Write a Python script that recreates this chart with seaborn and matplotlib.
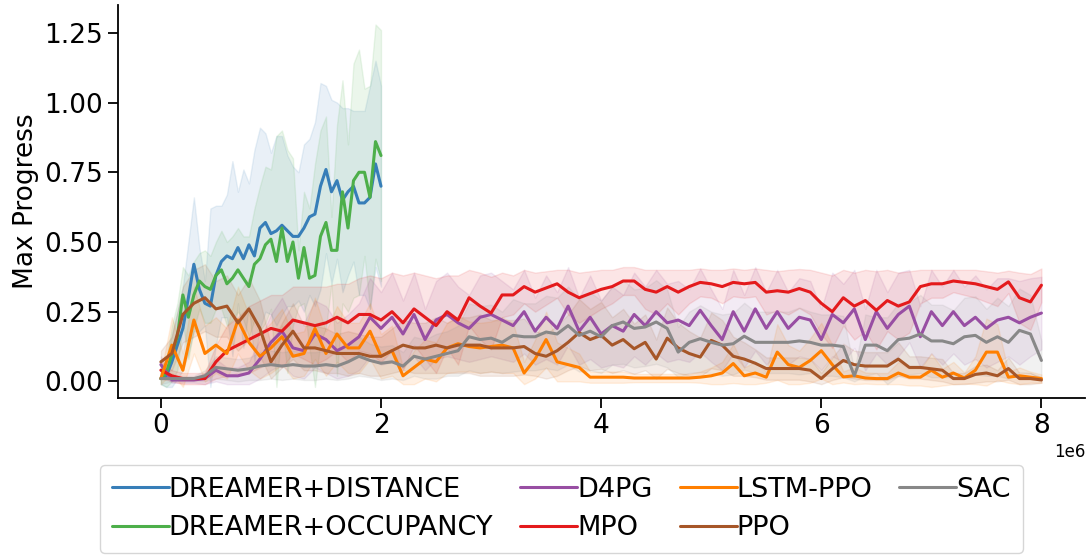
import numpy as np
import pandas as pd
import matplotlib.pyplot as plt
import seaborn as sns

# evaluation steps (env steps)
steps_dreamer = np.linspace(0, 2.0e6, 41)
steps_long = np.linspace(0, 8.0e6, 81)

dreamer_distance = [0.01, 0.02, 0.07, 0.13, 0.19, 0.30, 0.42, 0.33, 0.28, 0.27,
                    0.38, 0.43, 0.45, 0.44, 0.48, 0.44, 0.49, 0.45, 0.55, 0.57,
                    0.53, 0.54, 0.56, 0.54, 0.52, 0.52, 0.55, 0.59, 0.60, 0.70,
                    0.76, 0.68, 0.72, 0.65, 0.68, 0.70, 0.64, 0.64, 0.66, 0.78, 0.70]
dreamer_distance_sd = [0.02, 0.05, 0.10, 0.12, 0.15, 0.20, 0.24, 0.15, 0.08, 0.35,
                       0.25, 0.20, 0.22, 0.35, 0.20, 0.32, 0.22, 0.38, 0.36, 0.32,
                       0.29, 0.34, 0.32, 0.27, 0.25, 0.23, 0.30, 0.28, 0.33, 0.37,
                       0.30, 0.33, 0.28, 0.33, 0.30, 0.27, 0.33, 0.33, 0.40, 0.37, 0.36]

dreamer_occupancy = [0.01, 0.03, 0.10, 0.16, 0.31, 0.23, 0.31, 0.36, 0.34, 0.33,
                     0.38, 0.40, 0.35, 0.37, 0.40, 0.37, 0.34, 0.42, 0.44, 0.49,
                     0.51, 0.43, 0.55, 0.43, 0.50, 0.37, 0.48, 0.37, 0.38, 0.52,
                     0.57, 0.47, 0.47, 0.68, 0.55, 0.72, 0.75, 0.75, 0.66, 0.86, 0.81]
dreamer_occupancy_sd = [0.02, 0.05, 0.10, 0.12, 0.10, 0.15, 0.12, 0.10, 0.13, 0.12,
                        0.12, 0.14, 0.15, 0.15, 0.15, 0.15, 0.18, 0.20, 0.26, 0.28,
                        0.25, 0.45, 0.35, 0.40, 0.30, 0.10, 0.20, 0.25, 0.40, 0.38,
                        0.38, 0.12, 0.45, 0.40, 0.30, 0.42, 0.44, 0.30, 0.40, 0.42, 0.45]

d4pg = [0.06, 0.005, 0.005, 0.005, 0.01, 0.04, 0.02, 0.02, 0.03, 0.08,
        0.14, 0.18, 0.12, 0.11, 0.17, 0.15, 0.11, 0.13, 0.16, 0.23,
        0.19, 0.23, 0.17, 0.24, 0.15, 0.22, 0.24, 0.21, 0.19, 0.23,
        0.24, 0.22, 0.20, 0.25, 0.18, 0.23, 0.19, 0.27, 0.18, 0.23,
        0.17, 0.20, 0.18, 0.24, 0.20, 0.25, 0.21, 0.22, 0.20, 0.255,
        0.20, 0.15, 0.25, 0.18, 0.26, 0.19, 0.25, 0.19, 0.23, 0.22,
        0.15, 0.24, 0.21, 0.26, 0.15, 0.25, 0.19, 0.24, 0.27, 0.16,
        0.25, 0.20, 0.25, 0.20, 0.23, 0.19, 0.22, 0.23, 0.21, 0.23, 0.245]
d4pg_sd = [0.03, 0.01, 0.01, 0.01, 0.02, 0.04, 0.03, 0.03, 0.04, 0.07,
           0.10, 0.12, 0.10, 0.10, 0.12, 0.12, 0.10, 0.11, 0.12, 0.14,
           0.13, 0.16, 0.12, 0.15, 0.11, 0.14, 0.15, 0.13, 0.12, 0.15,
           0.15, 0.14, 0.13, 0.15, 0.12, 0.15, 0.13, 0.14, 0.12, 0.15,
           0.12, 0.14, 0.13, 0.15, 0.14, 0.15, 0.14, 0.14, 0.13, 0.15,
           0.13, 0.11, 0.15, 0.13, 0.15, 0.13, 0.15, 0.13, 0.14, 0.14,
           0.11, 0.15, 0.14, 0.14, 0.11, 0.15, 0.13, 0.15, 0.13, 0.11,
           0.15, 0.14, 0.15, 0.14, 0.15, 0.14, 0.15, 0.14, 0.15, 0.14, 0.13]

mpo = [0.04, 0.02, 0.01, 0.01, 0.01, 0.07, 0.11, 0.13, 0.15, 0.17,
       0.19, 0.18, 0.22, 0.21, 0.20, 0.21, 0.23, 0.21, 0.24, 0.24,
       0.22, 0.25, 0.21, 0.26, 0.23, 0.20, 0.25, 0.22, 0.30, 0.27,
       0.245, 0.31, 0.31, 0.34, 0.32, 0.335, 0.35, 0.32, 0.30, 0.315,
       0.33, 0.34, 0.36, 0.36, 0.33, 0.32, 0.34, 0.32, 0.34, 0.355,
       0.35, 0.34, 0.355, 0.35, 0.355, 0.32, 0.325, 0.32, 0.333, 0.32,
       0.28, 0.25, 0.30, 0.27, 0.29, 0.255, 0.29, 0.27, 0.285, 0.34,
       0.35, 0.35, 0.36, 0.355, 0.35, 0.34, 0.33, 0.357, 0.30, 0.285, 0.345]
mpo_sd = [0.03, 0.02, 0.02, 0.02, 0.02, 0.06, 0.09, 0.10, 0.12, 0.12,
          0.12, 0.13, 0.12, 0.13, 0.14, 0.13, 0.12, 0.14, 0.13, 0.14,
          0.15, 0.14, 0.17, 0.13, 0.15, 0.17, 0.13, 0.16, 0.10, 0.12,
          0.13, 0.08, 0.07, 0.06, 0.07, 0.06, 0.05, 0.08, 0.09, 0.08,
          0.07, 0.06, 0.05, 0.05, 0.07, 0.08, 0.06, 0.08, 0.06, 0.05,
          0.05, 0.06, 0.05, 0.05, 0.05, 0.08, 0.07, 0.08, 0.07, 0.08,
          0.11, 0.13, 0.10, 0.12, 0.11, 0.14, 0.11, 0.12, 0.11, 0.06,
          0.05, 0.05, 0.04, 0.045, 0.05, 0.055, 0.06, 0.04, 0.09, 0.10, 0.06]

lstm_ppo = [0.01, 0.13, 0.04, 0.22, 0.10, 0.13, 0.10, 0.22, 0.14, 0.09,
            0.12, 0.16, 0.09, 0.10, 0.19, 0.10, 0.17, 0.12, 0.12, 0.18,
            0.09, 0.11, 0.02, 0.05, 0.08, 0.07, 0.12, 0.135, 0.125, 0.12,
            0.125, 0.13, 0.12, 0.03, 0.08, 0.15, 0.07, 0.06, 0.05, 0.015,
            0.015, 0.015, 0.015, 0.012, 0.012, 0.012, 0.012, 0.012, 0.012, 0.015,
            0.02, 0.03, 0.064, 0.02, 0.03, 0.015, 0.105, 0.06, 0.05, 0.075,
            0.11, 0.06, 0.016, 0.02, 0.012, 0.01, 0.01, 0.03, 0.015, 0.015,
            0.04, 0.015, 0.03, 0.012, 0.04, 0.105, 0.105, 0.015, 0.02, 0.015, 0.01]
lstm_ppo_sd = [0.02, 0.10, 0.06, 0.12, 0.10, 0.10, 0.09, 0.12, 0.10, 0.08,
               0.09, 0.10, 0.08, 0.08, 0.11, 0.08, 0.10, 0.09, 0.09, 0.10,
               0.08, 0.09, 0.03, 0.06, 0.07, 0.07, 0.09, 0.10, 0.09, 0.09,
               0.09, 0.10, 0.09, 0.04, 0.07, 0.10, 0.07, 0.06, 0.05, 0.02,
               0.02, 0.02, 0.02, 0.015, 0.015, 0.015, 0.015, 0.015, 0.015, 0.02,
               0.03, 0.04, 0.07, 0.03, 0.04, 0.02, 0.10, 0.07, 0.06, 0.08,
               0.10, 0.07, 0.02, 0.03, 0.02, 0.02, 0.02, 0.04, 0.03, 0.03,
               0.06, 0.03, 0.04, 0.02, 0.05, 0.12, 0.10, 0.02, 0.03, 0.02, 0.015]

ppo = [0.07, 0.10, 0.24, 0.28, 0.30, 0.26, 0.27, 0.21, 0.26, 0.19,
       0.07, 0.13, 0.18, 0.12, 0.12, 0.11, 0.10, 0.10, 0.10, 0.09,
       0.09, 0.11, 0.13, 0.12, 0.12, 0.13, 0.12, 0.13, 0.13, 0.13,
       0.12, 0.12, 0.12, 0.125, 0.10, 0.09, 0.11, 0.14, 0.175, 0.15,
       0.165, 0.13, 0.15, 0.117, 0.14, 0.08, 0.155, 0.12, 0.10, 0.087,
       0.147, 0.13, 0.09, 0.08, 0.065, 0.046, 0.046, 0.046, 0.046, 0.04,
       0.01, 0.045, 0.075, 0.06, 0.055, 0.055, 0.055, 0.08, 0.05, 0.05,
       0.045, 0.04, 0.01, 0.01, 0.025, 0.03, 0.02, 0.046, 0.01, 0.01, 0.005]
ppo_sd = [0.04, 0.06, 0.10, 0.12, 0.12, 0.10, 0.11, 0.10, 0.11, 0.10,
          0.06, 0.08, 0.10, 0.08, 0.08, 0.08, 0.07, 0.08, 0.07, 0.07,
          0.07, 0.08, 0.09, 0.09, 0.09, 0.10, 0.09, 0.10, 0.10, 0.11,
          0.10, 0.10, 0.10, 0.10, 0.08, 0.08, 0.09, 0.10, 0.12, 0.11,
          0.12, 0.10, 0.11, 0.09, 0.10, 0.07, 0.11, 0.09, 0.08, 0.07,
          0.10, 0.09, 0.07, 0.06, 0.05, 0.04, 0.04, 0.04, 0.04, 0.04,
          0.02, 0.04, 0.06, 0.05, 0.05, 0.05, 0.05, 0.06, 0.04, 0.04,
          0.04, 0.04, 0.02, 0.02, 0.03, 0.03, 0.02, 0.04, 0.02, 0.02, 0.01]

sac = [0.01, 0.01, 0.01, 0.01, 0.02, 0.05, 0.045, 0.04, 0.045, 0.055,
       0.06, 0.055, 0.06, 0.055, 0.055, 0.06, 0.055, 0.07, 0.09, 0.075,
       0.065, 0.07, 0.055, 0.09, 0.08, 0.09, 0.10, 0.11, 0.16, 0.15,
       0.155, 0.14, 0.165, 0.16, 0.16, 0.177, 0.17, 0.20, 0.165, 0.18,
       0.16, 0.20, 0.213, 0.19, 0.195, 0.213, 0.19, 0.105, 0.14, 0.153,
       0.14, 0.13, 0.135, 0.162, 0.14, 0.14, 0.14, 0.14, 0.145, 0.14,
       0.13, 0.13, 0.125, 0.02, 0.13, 0.13, 0.11, 0.15, 0.155, 0.17,
       0.145, 0.145, 0.135, 0.16, 0.165, 0.14, 0.16, 0.14, 0.183, 0.17, 0.075]
sac_sd = [0.02, 0.01, 0.01, 0.01, 0.02, 0.04, 0.04, 0.04, 0.04, 0.05,
          0.05, 0.05, 0.05, 0.05, 0.05, 0.05, 0.05, 0.06, 0.07, 0.06,
          0.06, 0.06, 0.05, 0.07, 0.07, 0.08, 0.08, 0.09, 0.12, 0.12,
          0.12, 0.11, 0.13, 0.12, 0.12, 0.13, 0.13, 0.14, 0.13, 0.14,
          0.13, 0.14, 0.15, 0.14, 0.14, 0.15, 0.14, 0.09, 0.11, 0.12,
          0.11, 0.11, 0.11, 0.12, 0.11, 0.11, 0.11, 0.11, 0.12, 0.11,
          0.11, 0.11, 0.11, 0.02, 0.11, 0.10, 0.12, 0.13, 0.13, 0.14,
          0.13, 0.13, 0.12, 0.14, 0.14, 0.12, 0.14, 0.13, 0.15, 0.14, 0.07]

algos = ['DREAMER+DISTANCE', 'DREAMER+OCCUPANCY', 'D4PG', 'MPO', 'LSTM-PPO', 'PPO', 'SAC']
runs = {
    'DREAMER+DISTANCE': (steps_dreamer, dreamer_distance, dreamer_distance_sd),
    'DREAMER+OCCUPANCY': (steps_dreamer, dreamer_occupancy, dreamer_occupancy_sd),
    'D4PG': (steps_long, d4pg, d4pg_sd),
    'MPO': (steps_long, mpo, mpo_sd),
    'LSTM-PPO': (steps_long, lstm_ppo, lstm_ppo_sd),
    'PPO': (steps_long, ppo, ppo_sd),
    'SAC': (steps_long, sac, sac_sd),
}
colors = {
    'DREAMER+DISTANCE': '#377eb8',
    'DREAMER+OCCUPANCY': '#4daf4a',
    'D4PG': '#984ea3',
    'MPO': '#e41a1c',
    'LSTM-PPO': '#ff7f00',
    'PPO': '#a65628',
    'SAC': '#888888',
}

df = pd.concat([pd.DataFrame({'step': s, 'progress': m, 'sd': sd, 'algo': name})
                for name, (s, m, sd) in runs.items()], ignore_index=True)

sns.set_style('white')
plt.rcParams['font.family'] = ['DejaVu Sans']
plt.rcParams['text.color'] = 'black'
plt.rcParams['axes.labelcolor'] = 'black'
plt.rcParams['xtick.color'] = 'black'
plt.rcParams['ytick.color'] = 'black'

fig, ax = plt.subplots(figsize=(10.92, 5.56), dpi=100)
fig.subplots_adjust(left=0.108, right=0.994, bottom=0.284, top=0.991)

for name in algos:
    d = df[df['algo'] == name]
    lo = np.maximum(d['progress'] - d['sd'], -0.02)
    hi = d['progress'] + d['sd']
    ax.fill_between(d['step'], lo, hi, color=colors[name], alpha=0.11, linewidth=1)

sns.lineplot(data=df, x='step', y='progress', hue='algo', hue_order=algos,
             palette=colors, linewidth=2.2, ax=ax)

ax.set_xlim(-0.39e6, 8.4e6)
ax.set_ylim(-0.06, 1.35)
ax.set_xticks([0, 2e6, 4e6, 6e6, 8e6])
ax.set_yticks([0, 0.25, 0.5, 0.75, 1.0, 1.25])
ax.set_xlabel('')
ax.set_ylabel('Max Progress', fontsize=19)
ax.tick_params(labelsize=19, length=7, width=1.3, left=True, bottom=True, colors='black')
ax.xaxis.get_offset_text().set_fontsize(12)
for sp in ['left', 'bottom']:
    ax.spines[sp].set_linewidth(1.3)
    ax.spines[sp].set_color('black')
sns.despine(ax=ax)

handles, labels = ax.get_legend_handles_labels()
ax.get_legend().remove()
fig.legend(handles, labels, loc='lower center', bbox_to_anchor=(0.514, 0.0),
           ncol=4, fontsize=19.5, handlelength=2.1, handletextpad=0.0,
           columnspacing=1.0, labelspacing=0.45, borderpad=0.45,
           borderaxespad=0.1, frameon=True)

fig.savefig('out.png', dpi=100)
